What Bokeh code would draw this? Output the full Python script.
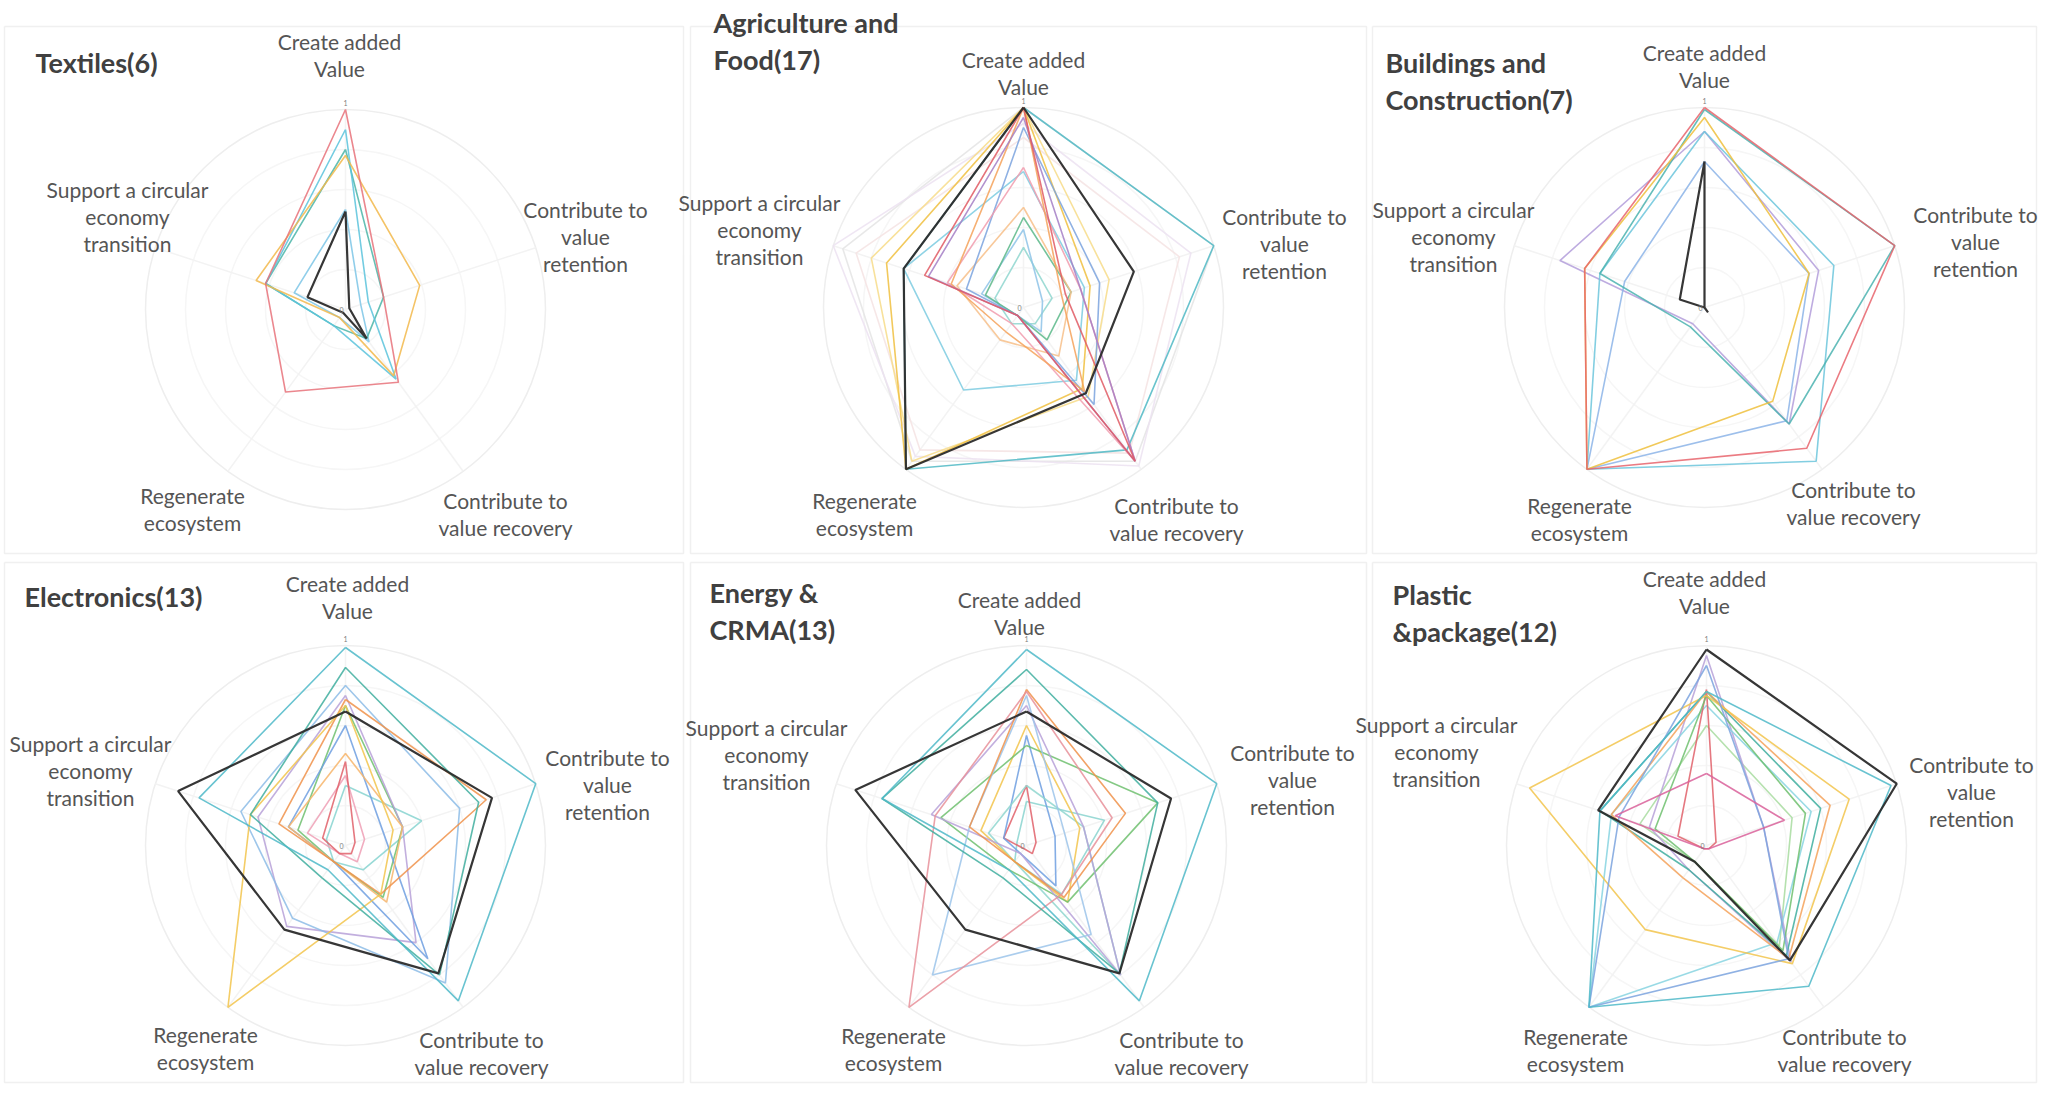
import numpy as np
from bokeh.plotting import figure
from bokeh.models import Range1d
from bokeh.embed import file_html
from bokeh.resources import INLINE
from bokeh.core.properties import value

# ---------------- data ----------------
axis_labels = ["Create added\nValue", "Contribute to\nvalue\nretention",
               "Contribute to\nvalue recovery", "Regenerate\necosystem",
               "Support a circular\neconomy\ntransition"]

panel_titles = ["Textiles(6)", "Agriculture and\nFood(17)", "Buildings and\nConstruction(7)",
                "Electronics(13)", "Energy &\nCRMA(13)", "Plastic\n&package(12)"]

# values per series: [create, retention, recovery, regenerate, support]
textiles_values = [
    [0.50, 0.08, 0.20, 0.05, 0.27],
    [0.80, 0.20, 0.18, 0.10, 0.42],
    [0.90, 0.12, 0.43, 0.10, 0.42],
    [0.77, 0.39, 0.41, 0.05, 0.47],
    [1.00, 0.20, 0.45, 0.51, 0.42],
    [0.49, 0.02, 0.18, 0.02, 0.20],
]
textiles_colors = ["#7cc6e6", "#4bb5a8", "#5bc3dc", "#f2b84b", "#e8727a", "#2b2b2b"]

agri_values = [
    [1.00, 1.00, 0.95, 0.95, 0.95],
    [0.92, 0.88, 0.98, 0.92, 1.00],
    [0.85, 0.82, 0.90, 0.88, 0.88],
    [1.00, 1.00, 0.88, 1.00, 0.63],
    [0.68, 0.32, 0.45, 0.51, 0.63],
    [1.00, 0.45, 0.55, 0.95, 0.80],
    [1.00, 0.35, 0.50, 1.00, 0.72],
    [0.30, 0.15, 0.10, 0.10, 0.15],
    [0.39, 0.10, 0.15, 0.05, 0.22],
    [0.45, 0.25, 0.20, 0.05, 0.20],
    [0.50, 0.25, 0.30, 0.20, 0.35],
    [0.90, 0.40, 0.60, 0.05, 0.30],
    [0.70, 0.30, 0.95, 0.10, 0.40],
    [1.00, 0.20, 0.52, 0.15, 0.38],
    [0.95, 0.30, 0.95, 0.05, 0.50],
    [1.00, 0.22, 0.95, 0.05, 0.52],
    [1.00, 0.58, 0.53, 1.00, 0.63],
]
agri_colors = ["#e4e4e4", "#ece2f1", "#f5e3e3", "#4fb8c4", "#7ccbe0", "#f7dc8a",
               "#f0c040", "#8fd6cf", "#8ec3e8", "#5cb88a", "#f7c08a", "#7ba3de",
               "#f19cae", "#f4a25a", "#a57fc6", "#e05a64", "#2b2b2b"]

build_values = [
    [0.88, 0.60, 0.72, 0.10, 0.76],
    [0.73, 0.55, 0.70, 1.00, 0.42],
    [0.88, 0.68, 0.95, 1.00, 0.55],
    [0.99, 1.00, 0.72, 0.12, 0.55],
    [0.95, 0.55, 0.58, 1.00, 0.63],
    [1.00, 1.00, 0.87, 1.00, 0.63],
    [0.73, 0.00, 0.03, 0.00, 0.13],
]
build_colors = ["#b39ddb", "#8cb4e8", "#6cc6dc", "#4bb3b0", "#efbf3c", "#e8646c", "#2b2b2b"]

elec_values = [
    [0.30, 0.40, 0.15, 0.10, 0.10],
    [0.35, 0.10, 0.10, 0.05, 0.20],
    [0.42, 0.05, 0.05, 0.05, 0.12],
    [0.70, 0.30, 0.32, 0.10, 0.25],
    [0.75, 0.30, 0.60, 0.50, 0.46],
    [0.80, 0.60, 0.85, 0.45, 0.55],
    [0.60, 0.20, 0.70, 0.10, 0.30],
    [0.46, 0.30, 0.35, 0.10, 0.30],
    [0.73, 0.74, 0.30, 0.10, 0.35],
    [0.70, 0.25, 0.30, 1.00, 0.50],
    [0.89, 0.70, 0.80, 0.20, 0.50],
    [0.99, 1.00, 0.96, 0.15, 0.77],
    [0.67, 0.77, 0.79, 0.52, 0.88],
]
elec_colors = ["#87d3d0", "#ef9fb5", "#e0606a", "#6fbf6f", "#b7a1d8", "#8dbce6",
               "#6f9fe0", "#f7b56b", "#f0924a", "#f2c44c", "#3fae9f", "#4db8c8", "#2b2b2b"]

energy_values = [
    [0.22, 0.41, 0.30, 0.10, 0.05],
    [0.30, 0.05, 0.05, 0.02, 0.12],
    [0.55, 0.15, 0.25, 0.05, 0.12],
    [0.30, 0.30, 0.80, 0.10, 0.20],
    [0.60, 0.28, 0.35, 0.10, 0.24],
    [0.50, 0.69, 0.35, 0.15, 0.45],
    [0.70, 0.30, 0.80, 0.05, 0.50],
    [0.75, 0.20, 0.55, 0.80, 0.30],
    [0.78, 0.52, 0.32, 0.10, 0.30],
    [0.77, 0.45, 0.30, 1.00, 0.48],
    [0.88, 0.69, 0.79, 0.20, 0.76],
    [0.98, 1.00, 0.96, 0.15, 0.76],
    [0.67, 0.76, 0.79, 0.52, 0.90],
]
energy_colors = ["#89d4cf", "#e0606a", "#6f9fe0", "#8fd6cf", "#f2c44c", "#6fbf6f",
                 "#b7a1d8", "#9cc4ea", "#f0924a", "#e8909a", "#3fae9f", "#4db8c8", "#2b2b2b"]

plastic_values = [
    [0.60, 0.45, 0.62, 0.10, 0.35],
    [0.95, 0.30, 0.72, 0.15, 0.30],
    [0.70, 0.55, 0.60, 1.00, 0.50],
    [0.78, 0.05, 0.02, 0.02, 0.15],
    [0.75, 0.52, 0.65, 0.10, 0.27],
    [0.77, 0.60, 0.68, 0.15, 0.56],
    [0.77, 0.65, 0.70, 0.20, 0.50],
    [0.75, 0.75, 0.73, 0.52, 0.93],
    [0.90, 0.30, 0.70, 1.00, 0.46],
    [0.77, 0.97, 0.87, 1.00, 0.56],
    [0.36, 0.41, 0.02, 0.02, 0.48],
    [0.98, 1.00, 0.71, 0.10, 0.57],
]
plastic_colors = ["#a8dca0", "#b7a1d8", "#87d3e0", "#e0606a", "#6fbf6f", "#3fae9f",
                  "#f4a25a", "#f2c44c", "#7ba3de", "#4db8c8", "#d9609a", "#2b2b2b"]

all_values = [textiles_values, agri_values, build_values, elec_values, energy_values, plastic_values]
all_colors = [textiles_colors, agri_colors, build_colors, elec_colors, energy_colors, plastic_colors]
ring_levels = [0.2, 0.4, 0.6, 0.8, 1.0]

# ---------------- layout (page pixels) ----------------
W, H = 2038, 1084
R = 200
centers = [(345, 309), (1023, 307), (1704, 307), (345, 845), (1026, 845), (1706, 845)]
title_pos = [(35, 62), (713, 22), (1385, 62), (24, 596), (709, 592), (1392, 594)]
label_pos = [
    [(339, 41), (585, 209), (505, 500), (192, 495), (127, 189)],
    [(1023, 59), (1284, 216), (1176, 505), (864, 500), (759, 202)],
    [(1704, 52), (1975, 214), (1853, 489), (1579, 505), (1453, 209)],
    [(347, 583), (607, 757), (481, 1039), (205, 1034), (90, 743)],
    [(1019, 599), (1292, 752), (1181, 1039), (893, 1035), (766, 727)],
    [(1704, 578), (1971, 764), (1844, 1036), (1575, 1036), (1436, 724)],
]
panel_boxes = [(4, 26, 683, 553), (690, 26, 1366, 553), (1372, 26, 2036, 553),
               (4, 562, 683, 1082), (690, 562, 1366, 1082), (1372, 562, 2036, 1082)]
angles = np.radians([90, 18, -54, -126, 162])
LH = 27
FONT = value("Lato")

p = figure(width=W, height=H, x_range=Range1d(0, W), y_range=Range1d(H, 0),
           output_backend="svg", toolbar_location=None, min_border=0)
p.axis.visible = False
p.grid.visible = False
p.outline_line_color = None
p.background_fill_color = "white"
p.border_fill_color = "white"

for i in range(6):
    cx, cy = centers[i]
    x0, y0, x1, y1 = panel_boxes[i]
    p.line([x0, x1, x1, x0, x0], [y0, y0, y1, y1, y0], line_color="#f0f0f0", line_width=1.5)
    # rings and spokes
    p.circle(x=[cx] * len(ring_levels), y=[cy] * len(ring_levels),
             radius=[R * r for r in ring_levels], fill_color=None,
             line_color=["#f6f6f6"] * 4 + ["#eeeeee"], line_width=1.5)
    p.segment(x0=[cx] * 5, y0=[cy] * 5, x1=list(cx + R * np.cos(angles)),
              y1=list(cy - R * np.sin(angles)), line_color="#f3f3f3", line_width=1.5)
    # series
    for vals, col in zip(all_values[i], all_colors[i]):
        v = np.array(vals + vals[:1])
        a = np.concatenate([angles, angles[:1]])
        xs = cx + v * R * np.cos(a)
        ys = cy - v * R * np.sin(a)
        is_black = col == "#2b2b2b"
        p.line(list(xs), list(ys), line_color=col,
               line_width=2.2 if is_black else 1.6, line_alpha=0.95 if is_black else 0.85)
    # tick labels
    p.text(x=[cx], y=[cy - R - 7], text=["1"], text_align="center", text_baseline="middle",
           text_font=FONT, text_font_size="7px", text_color="#808080")
    p.text(x=[cx - 4], y=[cy], text=["0"], text_align="center", text_baseline="middle",
           text_font=FONT, text_font_size="7px", text_color="#808080")
    # axis labels
    for (lx, ly), lab in zip(label_pos[i], axis_labels):
        lines = lab.split("\n")
        p.text(x=[lx] * len(lines), y=[ly + LH * k for k in range(len(lines))], text=lines,
               text_align="center", text_baseline="middle", text_font=FONT,
               text_font_size="21px", text_color="#555555")
    # title
    tx, ty = title_pos[i]
    tl = panel_titles[i].split("\n")
    p.text(x=[tx] * len(tl), y=[ty + 37 * k for k in range(len(tl))], text=tl,
           text_align="left", text_baseline="middle", text_font=FONT,
           text_font_size="27px", text_font_style="bold", text_color="#404040")

open("out.html", "w").write(file_html(p, INLINE))
